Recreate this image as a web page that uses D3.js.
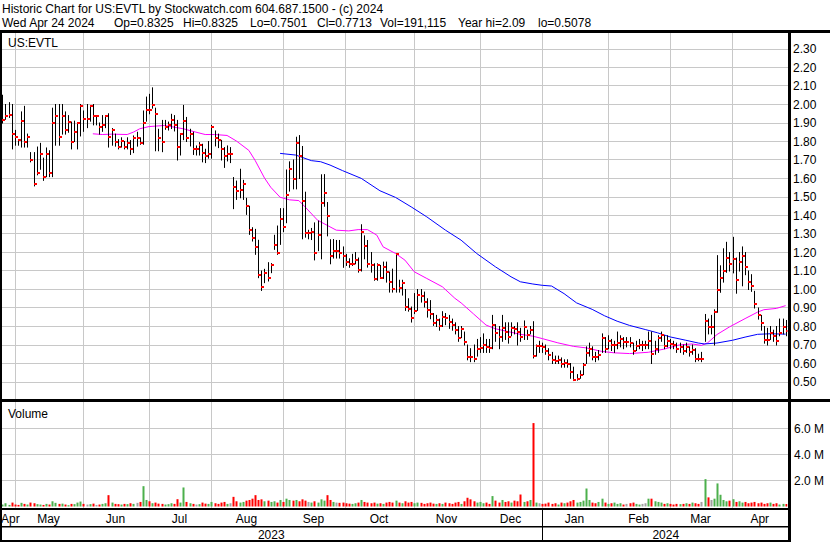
<!DOCTYPE html>
<html><head><meta charset="utf-8">
<script src="https://cdn.jsdelivr.net/npm/d3@7/dist/d3.min.js"></script>
<style>
body{margin:0;background:#fff;}
svg{display:block;}
text{font-family:Arial,"Liberation Sans",sans-serif;}
</style>
</head><body>
<svg id="c" width="830" height="543"></svg>
<script>
// ---------- DATA ----------
const titleLine1 = "Historic Chart for US:EVTL by Stockwatch.com 604.687.1500 - (c) 2024";
const titleLine2 = ["Wed Apr 24 2024", "Op=0.8325", "Hi=0.8325", "Lo=0.7501", "Cl=0.7713", "Vol=191,115", "Year hi=2.09", "lo=0.5078"];
const symbol = "US:EVTL";
const firstDay = "2023-04-25";
const lastDay = "2024-04-24";
const holidays = ["2023-05-29","2023-06-19","2023-07-04","2023-09-04","2023-11-23","2023-12-25","2024-01-01","2024-01-15","2024-02-19","2024-03-29"];
const monthNames = ["Jan","Feb","Mar","Apr","May","Jun","Jul","Aug","Sep","Oct","Nov","Dec"];
const priceTicks = [0.5,0.6,0.7,0.8,0.9,1.0,1.1,1.2,1.3,1.4,1.5,1.6,1.7,1.8,1.9,2.0,2.1,2.2,2.3];
const volTicks = [2,4,6];

const hi = [2.05,2.00,2.01,2.00,1.86,1.81,1.96,1.99,1.84,1.74, 1.74,1.77,1.79,1.71,1.765,1.75,1.98,2.00,2.00,2.00,
 1.96,1.94,1.905,1.91,1.90,2.00,1.965,2.00,1.99,2.00, 1.94,1.90,1.94,1.94,1.95,1.87,1.84,1.81,1.82,1.80,
 1.82,1.805,1.83,1.85,1.82,1.965,2.04,2.055,2.09,1.98, 1.866,1.914,1.914,1.905,1.947,1.94,1.914,1.84,1.995,1.93,
 1.866,1.85,1.776,1.794,1.785,1.758,1.80,1.887,1.857,1.84, 1.806,1.767,1.776,1.767,1.605,1.586,1.65,1.59,1.493,1.45,
 1.334,1.325,1.266,1.10,1.109,1.145,1.14,1.293,1.343,1.437, 1.437,1.646,1.69,1.70,1.823,1.832,1.773,1.526,1.32,1.33,
 1.36,1.37,1.62,1.621,1.47,1.269,1.27,1.265,1.265,1.23, 1.19,1.166,1.19,1.20,1.17,1.35,1.29,1.265,1.20,1.139,
 1.139,1.13,1.148,1.148,1.094,1.11,1.191,1.05,1.05,1.0, 0.95,0.905,0.978,1.0,1.0,0.986,0.95,0.94,0.87,0.86,
 0.84,0.88,0.87,0.86,0.84,0.82,0.80,0.80,0.77,0.70, 0.68,0.70,0.73,0.74,0.76,0.73,0.73,0.86,0.81,0.80,
 0.86,0.82,0.82,0.82,0.80,0.82,0.79,0.83,0.78,0.80, 0.826,0.70,0.72,0.71,0.70,0.68,0.66,0.64,0.64,0.63,
 0.62,0.62,0.60,0.58,0.54,0.56,0.60,0.69,0.71,0.69, 0.66,0.67,0.76,0.74,0.75,0.73,0.72,0.77,0.75,0.74,
 0.74,0.74,0.71,0.72,0.73,0.72,0.72,0.77,0.77,0.72, 0.75,0.77,0.75,0.75,0.73,0.72,0.71,0.71,0.70,0.71,
 0.69,0.70,0.68,0.65,0.66,0.865,0.84,0.86,0.89,1.183, 1.128,1.22,1.255,1.20,1.282,1.17,1.20,1.23,1.20,1.10,
 1.08,0.99,0.90,0.86,0.80,0.79,0.80,0.78,0.80,0.84, 0.84,0.8325];
const lo = [1.90,1.92,1.93,1.76,1.78,1.78,1.77,1.77,1.77,1.69, 1.56,1.62,1.65,1.59,1.61,1.61,1.61,1.78,1.78,1.84,
 1.84,1.85,1.76,1.80,1.76,1.83,1.855,1.875,1.91,1.89, 1.89,1.84,1.855,1.875,1.77,1.78,1.775,1.76,1.77,1.76,
 1.76,1.73,1.74,1.775,1.785,1.785,1.91,1.95,1.98,1.75, 1.75,1.745,1.866,1.862,1.87,1.857,1.70,1.727,1.81,1.80,
 1.776,1.73,1.727,1.727,1.69,1.686,1.71,1.71,1.776,1.767, 1.70,1.66,1.695,1.686,1.437,1.487,1.496,1.487,1.406,1.298,
 1.262,1.19,1.064,0.995,1.037,1.046,1.091,1.217,1.19,1.244, 1.313,1.361,1.532,1.544,1.544,1.60,1.274,1.283,1.274,1.27,
 1.16,1.21,1.166,1.45,1.29,1.139,1.17,1.17,1.17,1.12, 1.13,1.12,1.13,1.139,1.094,1.10,1.166,1.121,1.094,1.05,
 1.05,1.06,1.06,1.04,0.986,0.986,0.986,0.986,0.97,0.887, 0.883,0.824,0.87,0.887,0.932,0.905,0.851,0.842,0.806,0.80,
 0.78,0.80,0.81,0.79,0.78,0.76,0.72,0.74,0.70,0.62, 0.61,0.61,0.64,0.66,0.66,0.66,0.66,0.68,0.72,0.68,
 0.72,0.73,0.71,0.75,0.76,0.70,0.72,0.73,0.73,0.76, 0.63,0.64,0.66,0.66,0.65,0.62,0.60,0.60,0.60,0.58,
 0.58,0.58,0.52,0.5078,0.51,0.52,0.54,0.60,0.64,0.62, 0.61,0.62,0.66,0.66,0.68,0.67,0.66,0.68,0.69,0.68,
 0.69,0.69,0.65,0.67,0.68,0.67,0.68,0.68,0.60,0.65, 0.66,0.72,0.68,0.69,0.68,0.68,0.66,0.66,0.65,0.66,
 0.64,0.65,0.61,0.615,0.61,0.72,0.76,0.76,0.70,0.877, 0.985,1.04,1.093,1.10,1.09,0.98,1.10,1.02,1.08,1.00,
 0.99,0.90,0.84,0.78,0.71,0.70,0.73,0.72,0.70,0.75, 0.76,0.7501];
const cl = [1.916,1.934,1.943,1.837,1.824,1.803,1.907,1.792,1.824,1.695, 1.567,1.626,1.729,1.605,1.729,1.626,1.896,1.934,1.824,1.934,
 1.862,1.905,1.792,1.846,1.896,1.99,1.918,1.918,1.99,1.934, 1.934,1.875,1.887,1.934,1.824,1.862,1.794,1.767,1.80,1.767,
 1.79,1.758,1.815,1.815,1.79,1.90,1.97,1.965,1.994,1.945, 1.815,1.792,1.875,1.887,1.916,1.887,1.767,1.837,1.907,1.815,
 1.837,1.756,1.756,1.777,1.734,1.718,1.729,1.875,1.815,1.803, 1.756,1.718,1.729,1.729,1.554,1.529,1.534,1.567,1.446,1.318,
 1.273,1.226,1.075,1.013,1.085,1.057,1.132,1.237,1.194,1.378, 1.334,1.507,1.651,1.593,1.79,1.719,1.476,1.30,1.30,1.31,
 1.193,1.292,1.467,1.52,1.393,1.18,1.207,1.207,1.196,1.179, 1.148,1.134,1.137,1.159,1.10,1.31,1.23,1.137,1.13,1.052,
 1.13,1.062,1.121,1.094,1.04,0.998,1.19,1.007,1.031,0.903, 0.892,0.842,0.883,0.968,0.964,0.932,0.887,0.865,0.815,0.83,
 0.80,0.851,0.845,0.82,0.806,0.778,0.733,0.783,0.711,0.635, 0.63,0.623,0.675,0.68,0.698,0.689,0.68,0.806,0.761,0.738,
 0.79,0.767,0.743,0.788,0.785,0.77,0.738,0.797,0.75,0.781, 0.636,0.69,0.69,0.687,0.667,0.645,0.615,0.612,0.617,0.597,
 0.60,0.596,0.55,0.51,0.515,0.536,0.587,0.655,0.673,0.635, 0.633,0.645,0.733,0.675,0.72,0.697,0.70,0.709,0.73,0.712,
 0.712,0.71,0.664,0.694,0.70,0.70,0.70,0.72,0.65,0.675, 0.733,0.75,0.693,0.718,0.705,0.70,0.675,0.684,0.664,0.684,
 0.66,0.668,0.624,0.62,0.62,0.828,0.795,0.795,0.877,0.994, 1.06,1.098,1.168,1.134,1.16,1.05,1.147,1.177,1.118,1.04,
 1.015,0.918,0.859,0.817,0.727,0.723,0.763,0.747,0.718,0.76, 0.795,0.7713];
// volume in millions of shares
const vol = [0.15,0.25,0.12,0.3,0.15,0.12,0.28,0.2,0.15,0.3, 0.25,0.18,0.15,0.12,0.2,0.15,0.4,0.28,0.2,0.22,
 0.15,0.1,0.2,0.18,0.3,0.38,0.2,0.15,0.18,0.22, 0.12,0.15,0.2,0.25,0.87,0.3,0.2,0.18,0.15,0.2,
 0.18,0.25,0.2,0.28,0.35,1.56,0.5,0.4,0.25,0.3, 0.22,0.2,0.15,0.18,0.25,0.2,0.56,0.3,1.46,0.35,
 0.25,0.2,0.15,0.18,0.3,0.22,0.2,0.35,0.25,0.2, 0.3,0.35,0.2,0.25,0.74,0.4,0.3,0.35,0.45,0.5,
 0.6,0.87,0.5,0.55,0.4,0.45,0.35,0.4,0.3,0.5, 0.35,0.6,0.5,0.45,0.5,0.4,0.55,0.45,0.35,0.3,
 0.4,0.3,0.55,0.45,0.87,0.5,0.35,0.3,0.28,0.3, 0.25,0.22,0.2,0.25,0.3,0.5,0.35,0.3,0.25,0.3,
 0.22,0.25,0.2,0.3,0.35,0.3,0.45,0.3,0.25,0.4, 0.3,0.35,0.25,0.3,0.28,0.2,0.25,0.3,0.22,0.2,
 0.25,0.2,0.3,0.25,0.2,0.3,0.35,0.2,0.4,0.67, 0.55,0.4,0.3,0.35,0.25,0.3,0.2,0.8,0.45,0.3,
 0.5,0.35,0.4,0.3,0.45,0.4,0.92,0.35,0.4,0.5, 6.4,0.3,0.25,0.2,0.22,0.3,0.2,0.25,0.15,0.3,
 0.25,0.3,0.4,0.5,0.3,0.35,0.45,1.38,0.5,0.3, 0.25,0.35,0.6,0.3,0.2,0.25,0.3,0.2,0.25,0.15,
 0.2,0.25,0.3,0.2,0.15,0.2,0.25,0.6,0.6,0.4, 0.35,0.3,0.2,0.25,0.2,0.15,0.2,0.18,0.2,0.25,
 0.2,0.3,0.25,0.2,0.35,2.1,0.7,0.5,0.6,1.77, 0.9,0.5,0.4,0.45,0.56,0.35,0.4,0.3,0.35,0.25,
 0.3,0.35,0.25,0.3,0.2,0.25,0.3,0.2,0.25,0.15, 0.2,0.19];
// moving averages (trading-day index, price)
const maShortIdx = [29,32,35,40,42,44,47,52,54,58,62,65,68,72,75,79,81,84,86,89,92,95,97,101,104,107,111,114,117,120,122,126,129,132,136,141,145,147,151,155,158,162,166,170,173,178,183,187,192,196,201,207,212,217,221,224,226,229,233,238,242,244,248,251];
const maShortVal = [1.839,1.835,1.837,1.835,1.848,1.866,1.878,1.884,1.878,1.866,1.848,1.835,1.835,1.83,1.80,1.749,1.695,1.60,1.55,1.496,1.482,1.478,1.444,1.372,1.345,1.318,1.314,1.321,1.321,1.291,1.228,1.192,1.156,1.093,1.057,1.012,0.95,0.925,0.865,0.805,0.785,0.77,0.755,0.745,0.732,0.709,0.69,0.682,0.663,0.655,0.651,0.658,0.675,0.698,0.703,0.695,0.709,0.754,0.795,0.84,0.875,0.888,0.895,0.91];
const maLongIdx = [89,94,99,102,105,109,115,121,126,131,136,142,147,152,158,163,166,170,173,176,180,184,189,193,197,201,206,210,214,219,223,225,229,234,238,242,246,251];
const maLongVal = [1.733,1.724,1.694,1.688,1.67,1.64,1.598,1.531,1.495,1.444,1.39,1.318,1.264,1.192,1.12,1.066,1.039,1.027,1.02,1.016,0.975,0.925,0.89,0.855,0.826,0.803,0.781,0.763,0.741,0.723,0.708,0.703,0.708,0.723,0.74,0.755,0.758,0.756];

// ---------- TRADING CALENDAR ----------
const parse = d3.utcParse("%Y-%m-%d"), fmt = d3.utcFormat("%Y-%m-%d");
const hol = new Set(holidays);
const days = d3.utcDays(parse(firstDay), d3.utcDay.offset(parse(lastDay), 1))
  .filter(d => d.getUTCDay() !== 0 && d.getUTCDay() !== 6 && !hol.has(fmt(d)));
const N = days.length;

// ---------- LAYOUT ----------
const svg = d3.select("#c");
const AX = 789;             // right axis line
const x = d3.scaleLinear().domain([0, N]).range([0.8, 787.2]);
const xc = i => x(i + 0.5);
const y = d3.scaleLinear().domain([0.5, 2.3]).range([381.5, 48.5]);
const yv = d3.scaleLinear().domain([0, 6]).range([506.5, 428.3]);
const grid = "#c8c8c8";

// header
svg.append("text").attr("x", 2).attr("y", 13).attr("font-size", 12).text(titleLine1);
const hx = [2, 114, 183, 250, 317, 380, 458, 538];
svg.append("g").selectAll("text").data(titleLine2).join("text")
  .attr("x", (d, i) => hx[i]).attr("y", 27).attr("font-size", 12).text(d => d);

svg.append("defs").append("clipPath").attr("id", "cp").append("rect")
  .attr("x", 2).attr("y", 33).attr("width", AX - 2 - 1.5).attr("height", 366);
svg.append("defs").append("clipPath").attr("id", "cv").append("rect")
  .attr("x", 2).attr("y", 402).attr("width", AX - 2 - 1.5).attr("height", 106);

// month starts
const monthStarts = [];
days.forEach((d, i) => { if (i > 0 && d.getUTCMonth() !== days[i - 1].getUTCMonth()) monthStarts.push(i); });
const gx = i => Math.round(x(i + 0.45)) + 0.5;

// horizontal price gridlines
svg.append("g").selectAll("line").data(priceTicks).join("line")
  .attr("x1", 2).attr("x2", AX).attr("y1", d => Math.round(y(d)) + 0.5).attr("y2", d => Math.round(y(d)) + 0.5)
  .attr("stroke", grid).attr("stroke-width", 1);
// volume gridlines
svg.append("g").selectAll("line").data(volTicks).join("line")
  .attr("x1", 2).attr("x2", AX).attr("y1", d => Math.round(yv(d)) + 0.5).attr("y2", d => Math.round(yv(d)) + 0.5)
  .attr("stroke", grid).attr("stroke-width", 1);
// vertical month gridlines
const vg = svg.append("g");
monthStarts.forEach(i => {
  vg.append("line").attr("x1", gx(i)).attr("x2", gx(i)).attr("y1", 33).attr("y2", 399).attr("stroke", grid);
  vg.append("line").attr("x1", gx(i)).attr("x2", gx(i)).attr("y1", 402).attr("y2", 508).attr("stroke", grid);
});

// price axis labels
svg.append("g").selectAll("text").data(priceTicks).join("text")
  .attr("x", 793).attr("y", d => y(d) + 4.5).attr("font-size", 12).text(d => d.toFixed(2));
svg.append("g").selectAll("text").data(volTicks).join("text")
  .attr("x", 794).attr("y", d => yv(d) + 4.5).attr("font-size", 12).text(d => d.toFixed(1) + " M");

// moving averages
const pg = svg.append("g").attr("clip-path", "url(#cp)");
const ln = d3.line().x(d => xc(d[0])).y(d => y(d[1]));
pg.append("path").attr("d", ln(d3.zip(maShortIdx, maShortVal))).attr("fill", "none").attr("stroke", "#ff00ff").attr("stroke-width", 1);
pg.append("path").attr("d", ln(d3.zip(maLongIdx, maLongVal))).attr("fill", "none").attr("stroke", "#0000ff").attr("stroke-width", 1);

// OHLC bars (high-low line + close tick)
const idx = d3.range(N);
pg.append("g").selectAll("line").data(idx).join("line")
  .attr("x1", i => Math.round(xc(i)) + 0.5).attr("x2", i => Math.round(xc(i)) + 0.5)
  .attr("y1", i => y(hi[i])).attr("y2", i => y(lo[i]) + 1)
  .attr("stroke", "#000").attr("stroke-width", 1);
pg.append("g").selectAll("rect").data(idx).join("rect")
  .attr("x", i => Math.round(xc(i))).attr("y", i => Math.round(y(cl[i])) - 1)
  .attr("width", 3).attr("height", 2).attr("fill", "#ff0000");

// volume bars
const vcol = i => i === 0 ? "#4cb04c" : (cl[i] > cl[i - 1] ? "#4cb04c" : (cl[i] < cl[i - 1] ? "#ff0000" : "#a0a0a0"));
svg.append("g").attr("clip-path", "url(#cv)").selectAll("rect").data(idx).join("rect")
  .attr("x", i => Math.round(xc(i)) - 0.5).attr("width", 2)
  .attr("y", i => yv(vol[i])).attr("height", i => yv(0) - yv(vol[i]))
  .attr("fill", vcol);

// panel labels
svg.append("text").attr("x", 8).attr("y", 47).attr("font-size", 12).text(symbol);
svg.append("text").attr("x", 8).attr("y", 418).attr("font-size", 12).text("Volume");

// month labels centred in each month span (first one kept inside the frame)
const bounds = [0, ...monthStarts.map(gx), AX];
const mIdx = [0, ...monthStarts];
const ag = svg.append("g");
mIdx.forEach((s, k) => {
  const t = ag.append("text").attr("y", 523).attr("font-size", 12).text(monthNames[days[s].getUTCMonth()]);
  if (k === 0) t.attr("x", 1);
  else t.attr("x", (bounds[k] + bounds[k + 1]) / 2 - 1).attr("text-anchor", "middle");
});
// year labels
const jan = monthStarts.find(i => days[i].getUTCMonth() === 0);
const years = [days[0].getUTCFullYear(), days[jan].getUTCFullYear()];
const yb = [0, gx(jan), AX];
years.forEach((yr, k) => {
  svg.append("text").attr("x", (yb[k] + yb[k + 1]) / 2).attr("y", 539)
    .attr("text-anchor", "middle").attr("font-size", 12).text(yr);
});
svg.append("line").attr("x1", gx(jan)).attr("x2", gx(jan)).attr("y1", 510).attr("y2", 541).attr("stroke", "#000");

// frame
const fr = svg.append("g").attr("fill", "#000");
fr.append("rect").attr("x", 0).attr("y", 30).attr("width", 830).attr("height", 3);
fr.append("rect").attr("x", 0).attr("y", 399).attr("width", 830).attr("height", 3);
fr.append("rect").attr("x", 0).attr("y", 508).attr("width", AX + 2).attr("height", 2);
fr.append("rect").attr("x", 0).attr("y", 526).attr("width", AX + 2).attr("height", 1.5);
fr.append("rect").attr("x", 0).attr("y", 540).attr("width", AX + 2).attr("height", 2);
fr.append("rect").attr("x", 0).attr("y", 30).attr("width", 2).attr("height", 512);
fr.append("rect").attr("x", AX - 1).attr("y", 30).attr("width", 3).attr("height", 512);
</script>
</body></html>
